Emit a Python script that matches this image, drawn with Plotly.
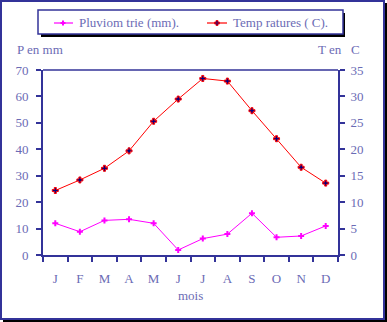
import plotly.graph_objects as go

months = ["Janvier", "Fevrier", "Mars", "Avril", "Mai", "Juin", "Juillet",
          "Aout", "Septembre", "Octobre", "Novembre", "Decembre"]
month_labels = ["J", "F", "M", "A", "M", "J", "J", "A", "S", "O", "N", "D"]
precip = [12.0, 8.8, 13.1, 13.5, 12.0, 1.9, 6.2, 7.9, 15.8, 6.7, 7.2, 11.0]
temp = [12.2, 14.2, 16.4, 19.7, 25.3, 29.5, 33.4, 32.9, 27.3, 22.0, 16.6, 13.6]

NAVY = "#333399"
TXT = "#6b6bb5"
FONT = "Liberation Serif"

W, H = 387, 322
L, R, T, B = 43, 338, 70, 255  # plot area in pixels


def px(x):
    return (x - L) / (R - L)


def py(y):
    return (B - y) / (B - T)


P_MARK = dict(symbol="cross", size=5, color="#ff00ff")
T_MARK = dict(symbol="cross", size=5, color="#000080",
              line=dict(color="#ff0000", width=1))

fig = go.Figure()
fig.add_trace(go.Scatter(x=months, y=precip, mode="lines+markers",
                         line=dict(color="#ff00ff", width=1),
                         marker=P_MARK, showlegend=False, yaxis="y"))
fig.add_trace(go.Scatter(x=months, y=temp, mode="lines+markers",
                         line=dict(color="#ff0000", width=1),
                         marker=T_MARK, showlegend=False, yaxis="y2"))

shapes = []
# outer frame shadow
shapes.append(dict(type="rect", xref="paper", yref="paper",
                   x0=px(3), x1=px(387), y0=py(322), y1=py(3),
                   fillcolor="black", line=dict(width=0), layer="below"))
shapes.append(dict(type="rect", xref="paper", yref="paper",
                   x0=px(0), x1=px(385), y0=py(320), y1=py(0),
                   fillcolor=NAVY, line=dict(width=0), layer="below"))
shapes.append(dict(type="rect", xref="paper", yref="paper",
                   x0=px(2), x1=px(383), y0=py(318), y1=py(2),
                   fillcolor="white", line=dict(width=0), layer="below"))
# legend box shadow + box
shapes.append(dict(type="rect", xref="paper", yref="paper",
                   x0=px(41), x1=px(345), y0=py(37), y1=py(13),
                   fillcolor="black", line=dict(width=0)))
shapes.append(dict(type="rect", xref="paper", yref="paper",
                   x0=px(38), x1=px(343), y0=py(34), y1=py(10),
                   fillcolor="white", line=dict(color=NAVY, width=1.5)))
# legend symbols
shapes.append(dict(type="line", xref="paper", yref="paper",
                   x0=px(54), x1=px(73), y0=py(23), y1=py(23),
                   line=dict(color="#ff00ff", width=1.2)))
shapes.append(dict(type="line", xref="paper", yref="paper",
                   x0=px(207), x1=px(227), y0=py(23), y1=py(23),
                   line=dict(color="#ff0000", width=1.2)))


def cross(cx, cy, color, edge=None):
    out = []
    for (w, h) in [(5, 2), (2, 5)]:
        out.append(dict(type="rect", xref="paper", yref="paper",
                        xsizemode="pixel", ysizemode="pixel",
                        xanchor=px(cx), yanchor=py(cy),
                        x0=-w / 2, x1=w / 2, y0=-h / 2, y1=h / 2,
                        fillcolor=color,
                        line=dict(width=0.8 if edge else 0, color=edge or color)))
    return out


shapes += cross(63, 23, "#ff00ff")
shapes += cross(217, 23, "#000080", "#ff0000")

# top border of plot area
shapes.append(dict(type="line", xref="paper", yref="paper",
                   x0=0, x1=1, y0=1, y1=1, line=dict(color=NAVY, width=1.5)))

annotations = [
    dict(text="Pluviom trie (mm).", x=px(77), y=py(23), xanchor="left", yanchor="middle"),
    dict(text="Temp ratures ( C).", x=px(231), y=py(23), xanchor="left", yanchor="middle"),
    dict(text="P en mm", x=px(15), y=py(49), xanchor="left", yanchor="middle"),
    dict(text="T en   C", x=px(316), y=py(49), xanchor="left", yanchor="middle"),
    dict(text="mois", x=px(190), y=py(295), xanchor="center", yanchor="middle"),
]
for a in annotations:
    a.update(xref="paper", yref="paper", showarrow=False,
             font=dict(family=FONT, size=13, color=TXT))

fig.update_layout(
    width=W, height=H,
    margin=dict(l=L, r=W - R, t=T, b=H - B, pad=0),
    paper_bgcolor="white", plot_bgcolor="white",
    font=dict(family=FONT, size=13, color=TXT),
    xaxis=dict(type="category", categoryorder="array", categoryarray=months,
               tickvals=months, ticktext=month_labels, tickson="boundaries",
               ticks="outside", ticklen=5, tickwidth=2, tickcolor=NAVY,
               ticklabelstandoff=10,
               showline=True, linecolor=NAVY, linewidth=2, showgrid=False,
               zeroline=False, range=[-0.5, 11.5],
               tickfont=dict(family=FONT, size=13, color=TXT)),
    yaxis=dict(range=[0, 70], dtick=10, ticks="outside", ticklen=5, tickwidth=2,
               tickcolor=NAVY, showline=True, linecolor=NAVY, linewidth=2,
               ticklabelstandoff=5,
               showgrid=False, zeroline=False,
               tickfont=dict(family=FONT, size=13, color=TXT)),
    yaxis2=dict(range=[0, 35], dtick=5, overlaying="y", side="right",
                ticks="outside", ticklen=5, tickwidth=2, tickcolor=NAVY,
                ticklabelstandoff=3,
                showline=True, linecolor=NAVY, linewidth=2, showgrid=False,
                zeroline=False, tickfont=dict(family=FONT, size=13, color=TXT)),
    shapes=shapes, annotations=annotations,
)

fig.write_html("out.html")
